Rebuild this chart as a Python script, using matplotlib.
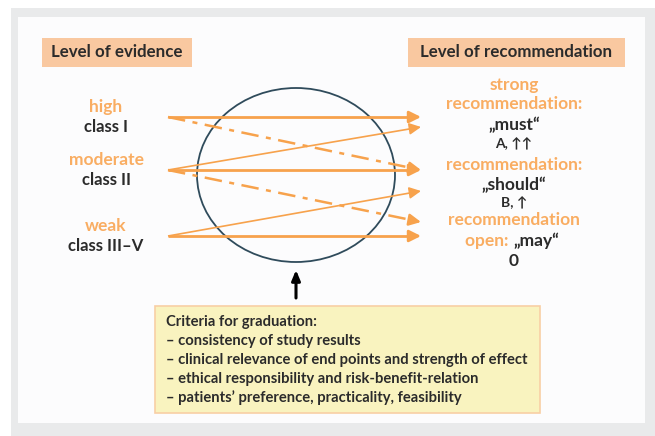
import matplotlib
matplotlib.use("Agg")
import matplotlib.pyplot as plt
import matplotlib.patches as mpatches

plt.rcParams['font.family'] = ['Lato', 'DejaVu Sans']

# ---- content -------------------------------------------------------------
header_left = "Level of evidence"
header_right = "Level of recommendation"

evidence_grade = ["high", "moderate", "weak"]
evidence_class = ["class I", "class II", "class III\u2013V"]

# each recommendation: lines of (text, is_orange)
recommendations = [
    [("strong", True), ("recommendation:", True), ("\u201emust\u201c", False), ("A, \u2191\u2191", False)],
    [("recommendation:", True), ("\u201eshould\u201c", False), ("B, \u2191", False)],
    [("recommendation", True), (None, None), ("0", False)],
]

# links: (evidence index, arrow target slot, style)
links = [
    (0, 0, "thick"), (0, 2, "dashdot"),
    (1, 1, "thin"), (1, 2, "thick"), (1, 4, "dashdot"),
    (2, 3, "thin"), (2, 5, "thick"),
]

criteria_title = "Criteria for graduation:"
criteria = [
    "consistency of study results",
    "clinical relevance of end points and strength of effect",
    "ethical responsibility and risk-benefit-relation",
    "patients\u2019 preference, practicality, feasibility",
]

# ---- layout --------------------------------------------------------------
ORANGE = "#f7a24c"
ORANGE_TXT = "#f9ad62"
DARK = "#2b2b2b"
src_y = [117, 170, 236]
slot_y = [117, 127, 170, 191, 222, 236]
x0, x1 = 168, 421

fig = plt.figure(figsize=(6.55, 4.36), dpi=100)
ax = fig.add_axes([0, 0, 1, 1])
ax.set_xlim(0, 655)
ax.set_ylim(436, 0)
ax.axis("off")

ax.add_patch(mpatches.Rectangle((11, 8), 650, 440, fc="#e9eaeb", ec="none"))
ax.add_patch(mpatches.Rectangle((18, 17), 627, 406, fc="#fcfcfd", ec="none"))

# headers
ax.add_patch(mpatches.Rectangle((42, 38), 150, 29, fc="#f9c8a0", ec="none"))
ax.add_patch(mpatches.Rectangle((408, 38), 217, 29, fc="#f9c8a0", ec="none"))
ax.text(117, 52, header_left, ha="center", va="center", fontsize=12.2,
        fontweight="bold", color=DARK)
ax.text(516, 52, header_right, ha="center", va="center", fontsize=12.2,
        fontweight="bold", color=DARK)

# evidence labels
for i, (g, c) in enumerate(zip(evidence_grade, evidence_class)):
    ax.text(106, src_y[i] - 10, g, ha="center", va="center", fontsize=12.5,
            fontweight="bold", color=ORANGE_TXT)
    ax.text(106, src_y[i] + 10, c, ha="center", va="center", fontsize=12,
            fontweight="bold", color=DARK)

# circle
ax.add_patch(mpatches.Ellipse((296, 175), 198, 174, fc="none", ec="#2f4b5b", lw=1.3))

# arrows
styles = {"thick": (2.0, "-"), "thin": (1.2, "-"), "dashdot": (1.8, (0, (7, 3, 2, 3)))}
for s, t, st in links:
    lw, ls = styles[st]
    ya, yb = src_y[s], slot_y[t]
    xe = x1 - 9
    ye = ya + (yb - ya) * (xe - x0) / (x1 - x0)
    ax.plot([x0, xe], [ya, ye], color=ORANGE, lw=lw, ls=ls, solid_capstyle="butt")
    ax.annotate("", xy=(x1, yb), xytext=(xe - 1, ye),
                arrowprops=dict(arrowstyle="-|>,head_length=0.7,head_width=0.35",
                                color=ORANGE, lw=lw, shrinkA=0, shrinkB=0))

# recommendation labels
rx = 514
rec_y = [[85, 104, 125, 144], [165, 185, 203], [220, 241, 261]]
for block, ys in zip(recommendations, rec_y):
    for (txt, orange), y in zip(block, ys):
        if txt is None:
            ax.text(rx - 1, y, "open: ", ha="right", va="center", fontsize=12.5,
                    fontweight="bold", color=ORANGE_TXT)
            ax.text(rx - 1, y, "\u201emay\u201c", ha="left", va="center", fontsize=12.5,
                    fontweight="bold", color=DARK)
            continue
        small = txt.startswith(("A,", "B,"))
        ax.text(rx, y, txt, ha="center", va="center",
                fontsize=10 if small else 12.5, fontweight="bold",
                color=ORANGE_TXT if orange else DARK)

# arrow from criteria box
ax.annotate("", xy=(296, 270), xytext=(296, 298),
            arrowprops=dict(arrowstyle="-|>,head_length=0.6,head_width=0.25",
                            color="black", lw=2.2, shrinkA=0, shrinkB=0))

# criteria box
ax.add_patch(mpatches.Rectangle((155, 306), 385, 107, fc="#f9f3bf", ec="#f8cfa5", lw=1.2))
ax.text(166, 322, criteria_title, ha="left", va="center", fontsize=10.6,
        fontweight="bold", color=DARK)
for k, line in enumerate(criteria):
    ax.text(166, 341 + k * 19, "\u2013 " + line, ha="left", va="center", fontsize=10.6,
            fontweight="bold", color=DARK)

fig.savefig("out.png", dpi=100)
